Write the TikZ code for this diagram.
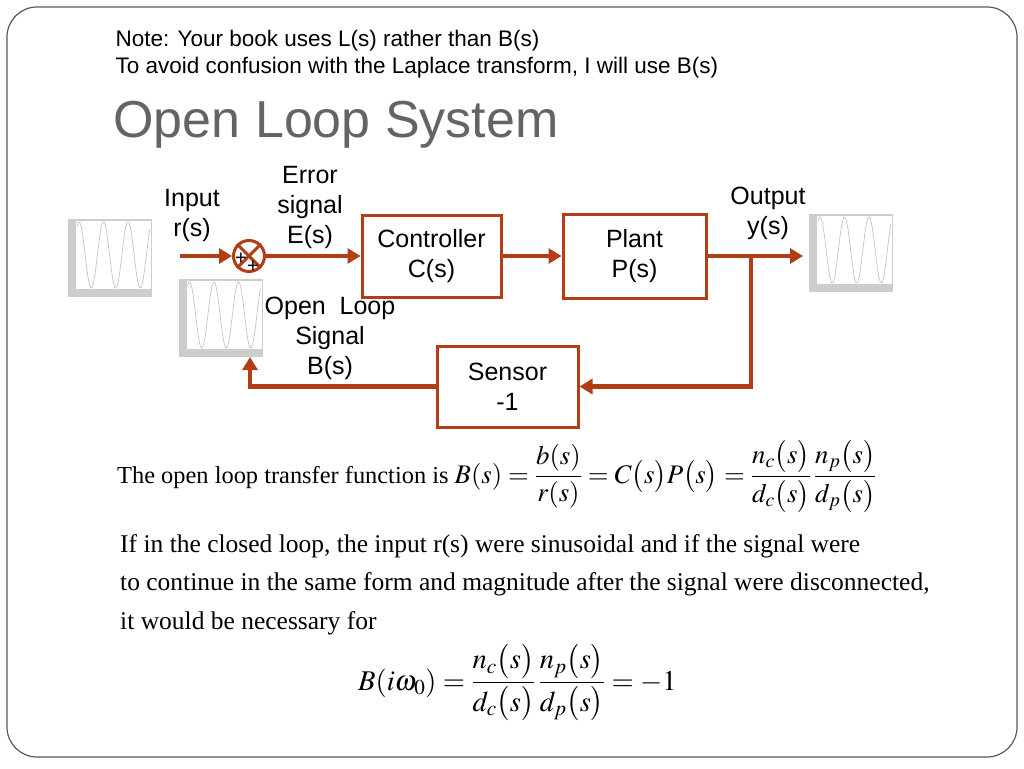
\documentclass[tikz,border=0pt]{standalone}
\usepackage{mathptmx}
\usepackage{fontspec}
\setmainfont{Liberation Serif}
\newfontfamily\arial{Liberation Sans}
\usetikzlibrary{arrows.meta}
\definecolor{arrowc}{RGB}{178,62,22}
\definecolor{titlegray}{RGB}{100,100,100}
\definecolor{framegray}{RGB}{90,90,90}
\definecolor{curvec}{RGB}{185,185,215}
\definecolor{plotgray}{RGB}{205,205,205}
\tikzset{
  arr/.style={draw=arrowc, line width=4.5pt, -{Triangle[length=13pt,width=15pt]}},
  blk/.style={draw=arrowc, line width=3pt, rectangle, align=center,
    font=\arial\fontsize{25}{30}\selectfont},
  lab/.style={align=center, font=\arial\fontsize{25}{30}\selectfont},
  notetext/.style={anchor=base west, font=\arial\fontsize{22.5}{26}\selectfont},
  serif/.style={anchor=base west, font=\fontsize{25.5}{29}\selectfont, inner sep=0pt},
  sigplot/.pic={
    \fill[plotgray] (-42,-39) rectangle (42,39);
    \fill[white] (-34,-37) rectangle (41,31);
    \draw[curvec, line width=0.6pt, domain=-2:71, samples=120, smooth]
      plot ({-31+\x},{-3-33*cos(14.694*\x)});
  }
}
\begin{document}
\begin{tikzpicture}[x=1pt,y=-1pt]
\useasboundingbox (0,0) rectangle (1024,768);
\fill[white] (0,0) rectangle (1024,768);
\draw[framegray, line width=1.2pt, rounded corners=30pt] (7,7) rectangle (1017,757);

% header
\node[notetext] (note1) at (112,47) {Note: Your book uses L(s) rather than B(s)};
\node[notetext] (note2) at (112,73) {To avoid confusion with the Laplace transform, I will use B(s)};
\node[anchor=base west, text=titlegray, font=\arial\fontsize{52}{60}\selectfont] (title) at (110,137) {Open Loop System};

% signal plots
\pic at (110,258) {sigplot};
\pic at (220.5,318) {sigplot};
\pic at (851,253) {sigplot};

% blocks
\node[circle, draw=arrowc, line width=3pt, minimum size=31pt, inner sep=0pt] (sum) at (249,256) {};
\draw[arrowc, line width=3pt] (sum.north west) -- (sum.south east) (sum.north east) -- (sum.south west);
\node[font=\arial\fontsize{20}{20}\selectfont, inner sep=0pt] (p1) at (241,259) {+};
\node[font=\arial\fontsize{20}{20}\selectfont, inner sep=0pt] (p2) at (253,267) {+};

\node[blk, minimum width=139pt, minimum height=82pt] (ctrl) at (431.5,256) {Controller\\C(s)};
\node[blk, minimum width=143pt, minimum height=84pt] (plant) at (634.5,256) {Plant\\P(s)};
\node[blk, minimum width=141pt, minimum height=81pt] (sens) at (507.5,386.5) {Sensor\\-1};

% labels
\node[lab] (inlab) at (192,215) {Input\\r(s)};
\node[lab] (errlab) at (310,207) {Error\\signal\\E(s)};
\node[lab] (outlab) at (768,213) {Output\\y(s)};
\node[lab] (bslab) at (330,338) {Open~~Loop\\Signal\\B(s)};

% connectors
\coordinate (in) at (180,256);
\coordinate (out) at (803,256);
\coordinate (br) at (751,256);
\coordinate (brd) at (751,386.5);
\coordinate (fbt) at (250,357);
\draw[arr] (in) -- (sum.west);
\draw[arr] (sum.east) -- (ctrl.west);
\draw[arr] (ctrl.east) -- (plant.west);
\draw[arr] (plant.east) -- (out);
\draw[arr] (br) -- (brd) -- (sens.east);
\draw[arr] (sens.west) -| (fbt);

% text
\node[anchor=base west, inner sep=0pt, font=\fontsize{24.4}{30}\selectfont] (eq1) at (117,483) {The open loop transfer function is {\fontsize{26.8}{30}\selectfont$B(s)=\displaystyle\frac{b(s)}{r(s)}=C\bigl(s\bigr)P\bigl(s\bigr)=\frac{n_c\bigl(s\bigr)}{d_c\bigl(s\bigr)}\,\frac{n_p\bigl(s\bigr)}{d_p\bigl(s\bigr)}$}};
\node[serif] (l1) at (120,552) {If in the closed loop, the input r(s) were sinusoidal and if the signal were};
\node[serif] (l2) at (120,590) {to continue in the same form and magnitude after the signal were disconnected,};
\node[serif] (l3) at (120,629) {it would be necessary for};
\node[anchor=base west, inner sep=0pt, font=\fontsize{28.6}{34}\selectfont] (eq2) at (358,690) {$B(i\omega_0)=\displaystyle\frac{n_c\bigl(s\bigr)}{d_c\bigl(s\bigr)}\,\frac{n_p\bigl(s\bigr)}{d_p\bigl(s\bigr)}=-1$};
\end{tikzpicture}
\end{document}
